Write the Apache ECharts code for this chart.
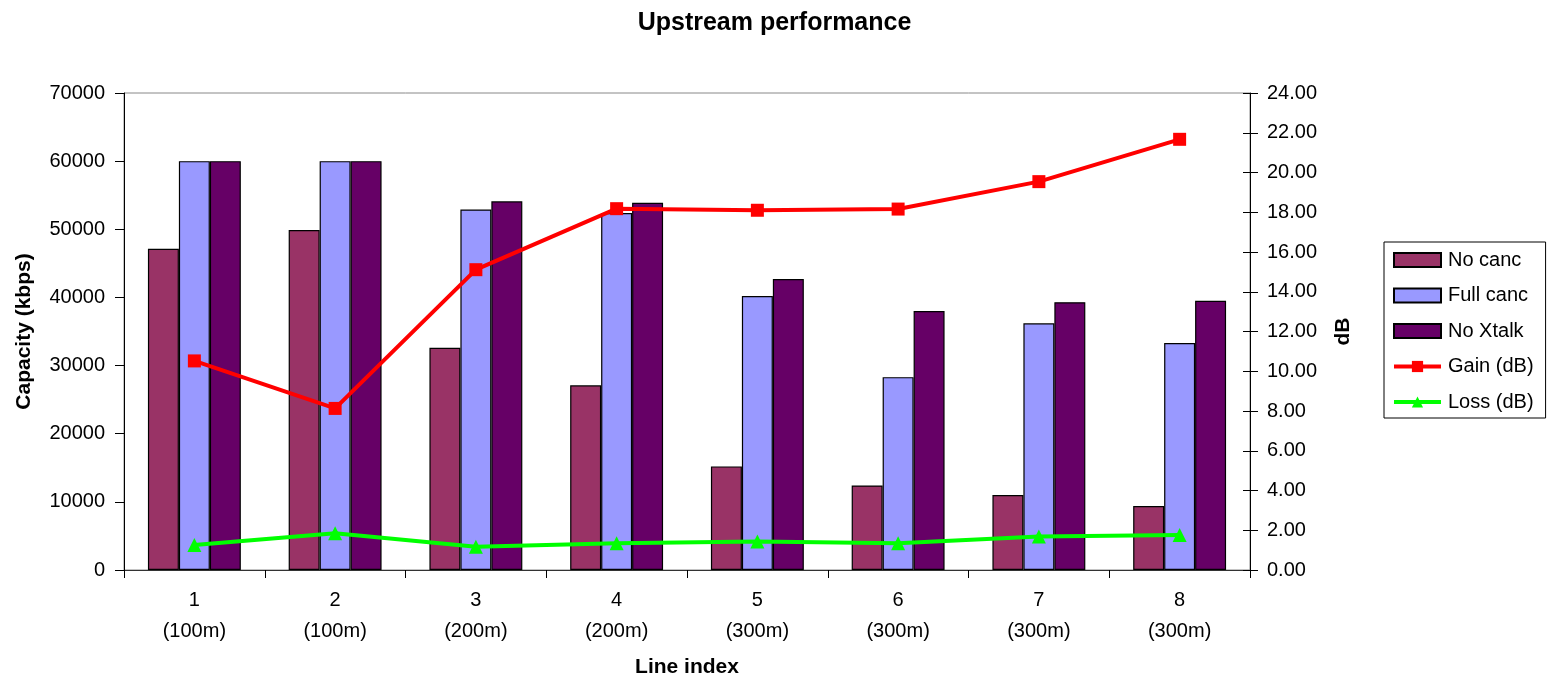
<!DOCTYPE html>
<html>
<head>
<meta charset="utf-8">
<script src="https://cdn.jsdelivr.net/npm/echarts@6/dist/echarts.min.js"></script>
<style>html,body{margin:0;padding:0;background:#fff}#c{width:1549px;height:678px}</style>
</head>
<body>
<div id="c"></div>
<script>
var lineIndex = ['1','2','3','4','5','6','7','8'];
var lineLength = ['(100m)','(100m)','(200m)','(200m)','(300m)','(300m)','(300m)','(300m)'];
var noCanc   = [47150, 49900, 32600, 27100, 15200, 12400, 11000, 9400];
var fullCanc = [60000, 60000, 52900, 52400, 40200, 28300, 36200, 33300];
var noXtalk  = [60000, 60000, 54100, 53900, 42700, 38000, 39300, 39500];
var gainDb   = [10.52, 8.13, 15.11, 18.18, 18.10, 18.16, 19.54, 21.67];
var lossDb   = [1.26, 1.85, 1.17, 1.34, 1.43, 1.34, 1.68, 1.76];
var leftTicks = {min: 0, max: 70000, interval: 10000};
var rightTicks = {min: 0, max: 24, interval: 2};

var categories = lineIndex.map(function (v, i) { return v + '\n' + lineLength[i]; });
var font = 'Liberation Sans, Arial, sans-serif';
var chart = echarts.init(document.getElementById('c'), null, {renderer: 'canvas'});
function barSeries(name, data, color) {
  return {
    name: name, type: 'bar', data: data, yAxisIndex: 0,
    barGap: '0%', barCategoryGap: '34%',
    itemStyle: {color: color, borderColor: '#000', borderWidth: 1.2},
    emphasis: {disabled: true}
  };
}
chart.setOption({
  animation: false,
  backgroundColor: '#fff',
  title: {
    text: 'Upstream performance', left: 'center', top: 6,
    textStyle: {fontFamily: font, fontSize: 25, fontWeight: 'bold', color: '#000'}
  },
  legend: {
    left: 1384, top: 242, orient: 'vertical',
    padding: [7, 12, 5, 8],
    borderColor: '#000', borderWidth: 1,
    itemWidth: 47, itemHeight: 14, itemGap: 13.5,
    textStyle: {fontFamily: font, fontSize: 20, color: '#000', lineHeight: 22, padding: [0, 0, 0, 2]},
    data: [
      {name: 'No canc', icon: 'rect'},
      {name: 'Full canc', icon: 'rect'},
      {name: 'No Xtalk', icon: 'rect'},
      {name: 'Gain (dB)', lineStyle: {width: 4}},
      {name: 'Loss (dB)', lineStyle: {width: 4}}
    ]
  },
  grid: {left: 124, right: 299, top: 93, bottom: 108, outerBoundsMode: 'none',
    show: true, borderColor: '#888', borderWidth: 1, backgroundColor: 'transparent'},
  xAxis: {
    type: 'category', data: categories, boundaryGap: true,
    name: 'Line index', nameLocation: 'middle', nameGap: 87,
    nameTextStyle: {fontFamily: font, fontSize: 21, fontWeight: 'bold', color: '#000'},
    axisLine: {lineStyle: {color: '#333', width: 1}},
    axisTick: {show: true, length: 8, lineStyle: {color: '#000'}},
    axisLabel: {fontFamily: font, fontSize: 20, color: '#000', lineHeight: 31, margin: 15, interval: 0},
    splitLine: {show: false}
  },
  yAxis: [
    {
      type: 'value', position: 'left', min: leftTicks.min, max: leftTicks.max, interval: leftTicks.interval,
      name: 'Capacity (kbps)', nameLocation: 'middle', nameGap: 89, nameRotate: 90,
      nameTextStyle: {fontFamily: font, fontSize: 21, fontWeight: 'bold', color: '#000'},
      axisLine: {show: true, lineStyle: {color: '#000', width: 1}},
      axisTick: {show: true, length: 9, lineStyle: {color: '#000'}},
      axisLabel: {fontFamily: font, fontSize: 20, color: '#000', margin: 19,
        formatter: function (v) { return String(v); }},
      splitLine: {show: false}
    },
    {
      type: 'value', position: 'right', min: rightTicks.min, max: rightTicks.max, interval: rightTicks.interval,
      name: 'dB', nameLocation: 'middle', nameGap: 83, nameRotate: 90,
      nameTextStyle: {fontFamily: font, fontSize: 21, fontWeight: 'bold', color: '#000'},
      axisLine: {show: true, lineStyle: {color: '#000', width: 1}},
      axisTick: {show: true, length: 8, lineStyle: {color: '#000'}},
      axisLabel: {fontFamily: font, fontSize: 20, color: '#000', margin: 17,
        formatter: function (v) { return v.toFixed(2); }},
      splitLine: {show: false}
    },
    {
      type: 'value', position: 'right', min: rightTicks.min, max: rightTicks.max, interval: rightTicks.interval,
      axisLine: {show: false},
      axisTick: {show: true, inside: true, length: 7, lineStyle: {color: '#000'}},
      axisLabel: {show: false},
      splitLine: {show: false}
    }
  ],
  series: [
    barSeries('No canc', noCanc, '#993366'),
    barSeries('Full canc', fullCanc, '#9999FF'),
    barSeries('No Xtalk', noXtalk, '#660066'),
    {
      name: 'Gain (dB)', type: 'line', yAxisIndex: 1, data: gainDb,
      symbol: 'rect', symbolSize: 13,
      lineStyle: {color: '#FF0000', width: 4},
      itemStyle: {color: '#FF0000'},
      emphasis: {disabled: true}, z: 5
    },
    {
      name: 'Loss (dB)', type: 'line', yAxisIndex: 1, data: lossDb,
      symbol: 'triangle', symbolSize: 14,
      lineStyle: {color: '#00FF00', width: 4},
      itemStyle: {color: '#00FF00'},
      emphasis: {disabled: true}, z: 5
    }
  ]
});
</script>
</body>
</html>
